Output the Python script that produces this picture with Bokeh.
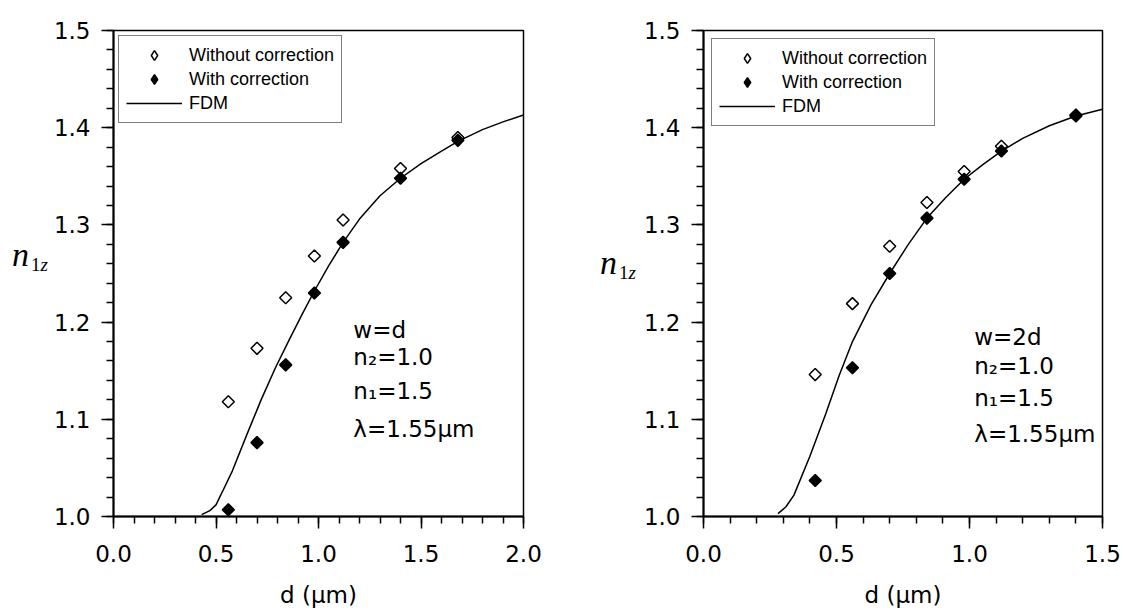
import numpy as np
from bokeh.plotting import figure
from bokeh.layouts import row
from bokeh.models import (Range1d, FixedTicker, PrintfTickFormatter, Legend,
                          LegendItem, Div)
from bokeh.core.properties import value
from bokeh.embed import file_html
from bokeh.resources import INLINE

# ---------------- data: left panel (w = d) ----------------
left_d = [0.56, 0.70, 0.84, 0.98, 1.12, 1.40, 1.68]
left_without = [1.118, 1.173, 1.225, 1.268, 1.305, 1.358, 1.390]
left_with = [1.007, 1.076, 1.156, 1.230, 1.282, 1.348, 1.387]
left_fdm_d = [0.43, 0.47, 0.50, 0.53, 0.58, 0.65, 0.72, 0.79, 0.86, 0.92,
              0.98, 1.05, 1.12, 1.20, 1.30, 1.40, 1.50, 1.60, 1.68, 1.80,
              1.90, 2.00]
left_fdm_n = [1.002, 1.006, 1.012, 1.025, 1.047, 1.084, 1.120, 1.153, 1.183,
              1.208, 1.232, 1.258, 1.282, 1.306, 1.330, 1.348, 1.363, 1.376,
              1.386, 1.398, 1.406, 1.413]
left_params = ["w=d", "n\u2082=1.0", "n\u2081=1.5", "\u03bb=1.55\u03bcm"]
left_params_y = [1.192, 1.164, 1.129, 1.090]

# ---------------- data: right panel (w = 2d) ----------------
right_d = [0.42, 0.56, 0.70, 0.84, 0.98, 1.12, 1.40]
right_without = [1.146, 1.219, 1.278, 1.323, 1.355, 1.381, 1.413]
right_with = [1.037, 1.153, 1.250, 1.307, 1.347, 1.376, 1.412]
right_fdm_d = [0.28, 0.31, 0.34, 0.40, 0.46, 0.51, 0.56, 0.63, 0.70, 0.77,
               0.84, 0.91, 0.98, 1.05, 1.12, 1.20, 1.30, 1.40, 1.50]
right_fdm_n = [1.003, 1.010, 1.022, 1.062, 1.106, 1.145, 1.180, 1.218, 1.250,
               1.280, 1.307, 1.328, 1.347, 1.362, 1.376, 1.389, 1.402, 1.412,
               1.419]
right_params = ["w=2d", "n\u2082=1.0", "n\u2081=1.5", "\u03bb=1.55\u03bcm"]
right_params_y = [1.185, 1.155, 1.122, 1.085]

legend_labels = ["Without correction", "With correction", "FDM"]
x_label = "d (\u03bcm)"
y_label_main = "n"
y_label_sub = ["1", "z"]
y_ticks = [1.0, 1.1, 1.2, 1.3, 1.4, 1.5]


def make_panel(width, xmax, ml, mr, d, n_wo, n_w, fd, fn, params, params_y,
               params_x, leg_margin):
    p = figure(width=width, height=615, x_range=Range1d(0, xmax),
               y_range=Range1d(1.0, 1.5), output_backend="svg",
               toolbar_location=None, min_border_left=ml, min_border_right=mr,
               min_border_top=30, min_border_bottom=99,
               background_fill_color="white", border_fill_color="white")
    p.xgrid.visible = False
    p.ygrid.visible = False
    p.outline_line_color = "black"
    p.outline_line_width = 1.5
    p.outline_line_alpha = 1.0

    xt = list(np.round(np.arange(0, xmax + 1e-9, 0.5), 2))
    xm = list(np.round(np.arange(0, xmax + 1e-9, 0.1), 2))
    ym = list(np.round(np.arange(1.0, 1.5 + 1e-9, 0.02), 2))
    p.xaxis.ticker = FixedTicker(ticks=xt, minor_ticks=xm)
    p.yaxis.ticker = FixedTicker(ticks=y_ticks, minor_ticks=ym)
    for ax in (p.xaxis, p.yaxis):
        ax.formatter = PrintfTickFormatter(format="%.1f")
        ax.axis_line_color = "black"
        ax.axis_line_width = 2
        ax.major_tick_line_color = "black"
        ax.major_tick_line_width = 1.5
        ax.minor_tick_line_color = "black"
        ax.minor_tick_line_width = 1.5
        ax.major_tick_in = 0
        ax.major_tick_out = 12
        ax.minor_tick_in = 0
        ax.minor_tick_out = 7
        ax.major_label_text_font = "DejaVu Sans"
        ax.major_label_text_font_size = "23px"
        ax.major_label_text_color = "black"
    p.yaxis.major_label_standoff = 11
    p.xaxis.major_label_standoff = 16
    p.xaxis.axis_label = x_label
    p.xaxis.axis_label_text_font = "DejaVu Sans"
    p.xaxis.axis_label_text_font_size = "23px"
    p.xaxis.axis_label_text_font_style = "normal"
    p.xaxis.axis_label_text_color = "black"
    p.xaxis.axis_label_standoff = 17

    r_line = p.line(fd, fn, line_color="black", line_width=1.5)
    p.scatter(d, n_wo, marker="square", angle=np.pi / 4, size=8.5,
              fill_color="white", line_color="black", line_width=1.5)
    p.scatter(d, n_w, marker="square", angle=np.pi / 4, size=8.5,
              fill_color="black", line_color="black", line_width=1.5)

    # legend-only diamond glyphs (a single NaN point, so nothing is plotted)
    leg_open = p.scatter([np.nan], [np.nan], marker="diamond",
                         fill_color="white", line_color="black", line_width=1.5)
    leg_fill = p.scatter([np.nan], [np.nan], marker="diamond",
                         fill_color="black", line_color="black", line_width=1.5)

    legend = Legend(items=[
        LegendItem(label=legend_labels[0], renderers=[leg_open]),
        LegendItem(label=legend_labels[1], renderers=[leg_fill]),
        LegendItem(label=legend_labels[2], renderers=[r_line]),
    ], location="top_left")
    legend.margin = leg_margin
    legend.padding = 7
    legend.spacing = 0
    legend.glyph_width = 56
    legend.glyph_height = 24
    legend.label_standoff = 7
    legend.label_height = 20
    legend.label_text_font = "Liberation Sans"
    legend.label_text_font_size = "18px"
    legend.label_text_color = "black"
    legend.border_line_color = "black"
    legend.border_line_width = 1.5
    legend.background_fill_alpha = 1.0
    p.add_layout(legend)

    p.text(x=[params_x] * len(params), y=params_y, text=params,
           text_font=value("DejaVu Sans"), text_font_size=value("23px"),
           text_color="black", text_baseline="middle", text_align="left")
    return p


def ylabel_div(width, left, top):
    html = (
        f'<div style="position:relative;margin:0;padding:0;'
        f'margin-left:{left}px;margin-top:{top}px;white-space:nowrap;'
        f'line-height:34px;color:black;">'
        f'<span style="font-family:\'Liberation Serif\';font-style:italic;'
        f'font-size:34px;">{y_label_main}</span>'
        f'<span style="font-family:\'Liberation Serif\';font-size:19px;'
        f'position:relative;top:5px;margin-left:2px;">{y_label_sub[0]}</span>'
        f'<span style="font-family:\'Liberation Serif\';font-style:italic;'
        f'font-size:19px;position:relative;top:5px;">{y_label_sub[1]}</span>'
        f'</div>'
    )
    return Div(text=html, width=width, height=615, margin=0)


d1 = ylabel_div(50, 12, 238)
p1 = make_panel(510, 2.0, 61, 37, left_d, left_without, left_with,
                left_fdm_d, left_fdm_n, left_params, left_params_y, 1.17, 5)
d2 = ylabel_div(80, 40, 246)
p2 = make_panel(483, 1.5, 55, 21, right_d, right_without, right_with,
                right_fdm_d, right_fdm_n, right_params, right_params_y, 1.018, 8)

layout = row(d1, p1, d2, p2)
open("out.html", "w").write(file_html(layout, INLINE))
